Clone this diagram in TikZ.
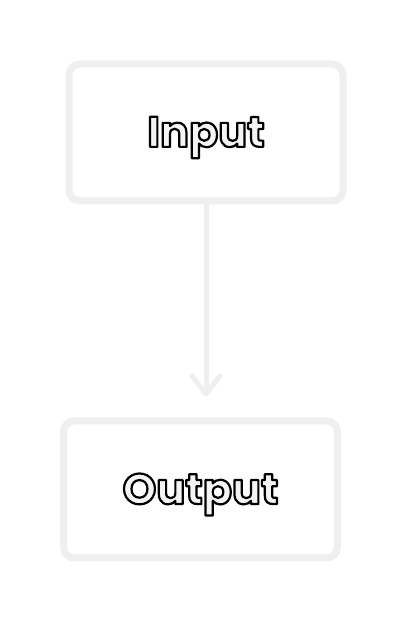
\documentclass[tikz,border=0pt]{standalone}
\usepackage{fontspec}
\setmainfont{Poppins}
\usetikzlibrary{arrows.meta,calc}
\definecolor{edgegray}{HTML}{EFEFEF}
\definecolor{textfill}{HTML}{F4F4F4}
\tikzset{
    block/.style={draw=edgegray,line width=7pt,rounded corners=11pt,
        minimum width=274pt,minimum height=137pt,inner sep=0pt},
    label/.style={font=\fontsize{43}{46}\selectfont\bfseries,yshift=-5pt},
    flow/.style={draw=edgegray,line width=5pt,
        -{Straight Barb[length=18pt,width=28pt,line width=5pt,round]},
        shorten >=21pt}
}
% outlined letters: light fill, black stroke
\newcommand{\outl}[1]{\textcolor{textfill}{\special{pdf:literal direct 2 Tr 2.2 w 0 G 1 j}#1\special{pdf:literal direct 0 Tr}}}

\begin{document}
\begin{tikzpicture}[x=1pt,y=1pt]
\useasboundingbox (0,0) rectangle (407,622);
\fill[white] (0,0) rectangle (407,622);
\node[block] (in) at (206,489.5) {};
\node[block] (out) at (200.5,132.5) {};
\node[label] (intxt) at (in) {\outl{Input}};
\node[label] (outtxt) at (out) {\outl{Output}};
\draw[flow] (in.south) -- (in.south |- out.north);
\end{tikzpicture}
\end{document}
